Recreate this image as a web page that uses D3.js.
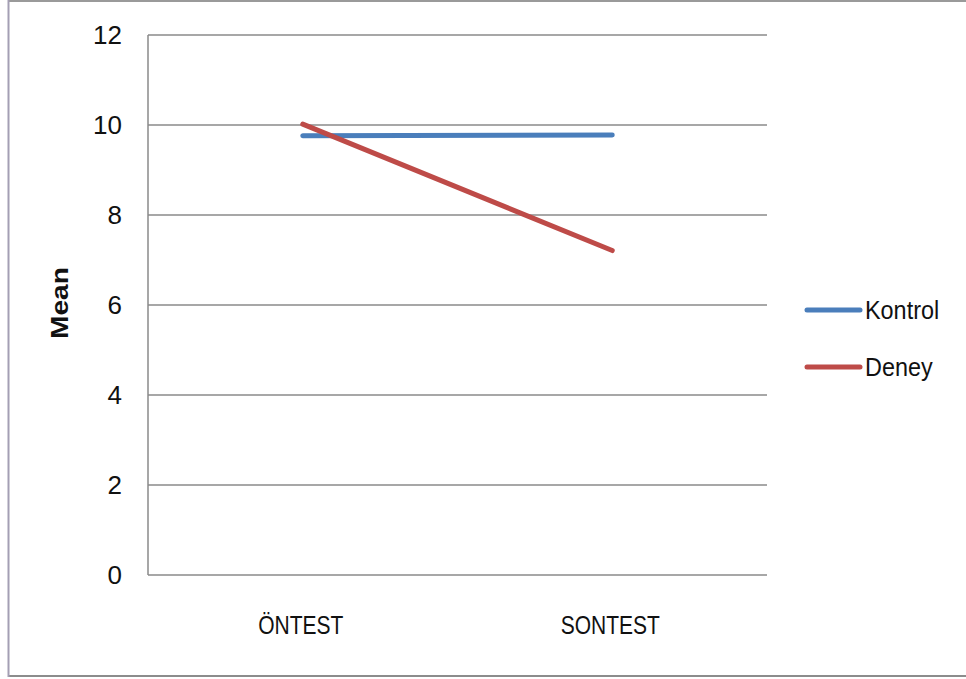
<!DOCTYPE html>
<html>
<head>
<meta charset="utf-8">
<script src="https://cdn.jsdelivr.net/npm/d3@7"></script>
<style>
  html, body { margin: 0; padding: 0; background: #fff; }
  svg { display: block; }
  text { font-family: "Liberation Sans", Arial, sans-serif; fill: #111; }
</style>
</head>
<body>
<svg id="chart" width="966" height="679"></svg>
<script>
// Mean scores per test phase for each group
const categories = ["ÖNTEST", "SONTEST"];
const seriesNames = ["Kontrol", "Deney"];
const kontrolValues = [9.76, 9.78];
const deneyValues = [10.02, 7.21];
const yTicks = [0, 2, 4, 6, 8, 10, 12];
const yLabel = "Mean";

const colors = { Kontrol: "#4a7ebb", Deney: "#be4b48" };
const series = [
  { name: seriesNames[0], values: kontrolValues },
  { name: seriesNames[1], values: deneyValues }
];

// condensed text: squeeze each label to a fraction of its natural width
function fitText(sel, k) {
  sel.each(function () {
    const w = this.getComputedTextLength();
    d3.select(this).attr("textLength", w * k).attr("lengthAdjust", "spacingAndGlyphs");
  });
}

const svg = d3.select("#chart");
const W = 966, H = 679;

// outer frame
svg.append("line").attr("x1", 8).attr("x2", W).attr("y1", 1).attr("y2", 1)
  .attr("stroke", "#9a9a9a").attr("stroke-width", 2);
svg.append("line").attr("x1", 8).attr("x2", W).attr("y1", 676).attr("y2", 676)
  .attr("stroke", "#8c8c8c").attr("stroke-width", 2);
svg.append("line").attr("x1", 8.5).attr("x2", 8.5).attr("y1", 0).attr("y2", 677)
  .attr("stroke", "#a49fb4").attr("stroke-width", 2);

const plot = { left: 148, right: 767, top: 35, bottom: 575 };

const x = d3.scaleBand().domain(categories).range([plot.left, plot.right]);
const y = d3.scaleLinear().domain([0, 12]).range([plot.bottom, plot.top]);

// horizontal gridlines
svg.append("g").selectAll("line").data(yTicks).join("line")
  .attr("x1", plot.left).attr("x2", plot.right)
  .attr("y1", d => y(d)).attr("y2", d => y(d))
  .attr("stroke", "#8a8a8a").attr("stroke-width", 1.5);

// vertical axis line
svg.append("line").attr("x1", plot.left).attr("x2", plot.left)
  .attr("y1", plot.top).attr("y2", plot.bottom)
  .attr("stroke", "#8a8a8a").attr("stroke-width", 1.5);

// y tick labels
svg.append("g").selectAll("text").data(yTicks).join("text")
  .attr("x", 122).attr("y", d => y(d))
  .attr("dy", "0.36em")
  .attr("text-anchor", "end")
  .attr("font-size", 26)
  .text(d => d);

// category labels
svg.append("g").selectAll("text").data(categories).join("text")
  .attr("x", d => x(d) + x.bandwidth() / 2 - 2)
  .attr("y", 634)
  .attr("text-anchor", "middle")
  .attr("font-size", 25)
  .text(d => d)
  .call(fitText, 0.84);

// y axis title
svg.append("text")
  .attr("transform", "translate(68,303) rotate(-90)")
  .attr("text-anchor", "middle")
  .attr("font-size", 24)
  .attr("font-weight", "bold")
  .attr("textLength", 72)
  .attr("lengthAdjust", "spacingAndGlyphs")
  .text(yLabel);

// series lines
const line = d3.line()
  .x((d, i) => x(categories[i]) + x.bandwidth() / 2)
  .y(d => y(d));

svg.append("g").selectAll("path").data(series).join("path")
  .attr("d", d => line(d.values))
  .attr("fill", "none")
  .attr("stroke", d => colors[d.name])
  .attr("stroke-width", 5)
  .attr("stroke-linecap", "round");

// legend
const legend = svg.append("g").selectAll("g").data(series).join("g")
  .attr("transform", (d, i) => `translate(807,${310 + i * 57})`);
legend.append("line")
  .attr("x1", 0).attr("x2", 53).attr("y1", 0).attr("y2", 0)
  .attr("stroke", d => colors[d.name])
  .attr("stroke-width", 5)
  .attr("stroke-linecap", "round");
legend.append("text")
  .attr("x", 58).attr("y", 0).attr("dy", "0.36em")
  .attr("font-size", 26)
  .text(d => d.name)
  .call(fitText, 0.9);
</script>
</body>
</html>
